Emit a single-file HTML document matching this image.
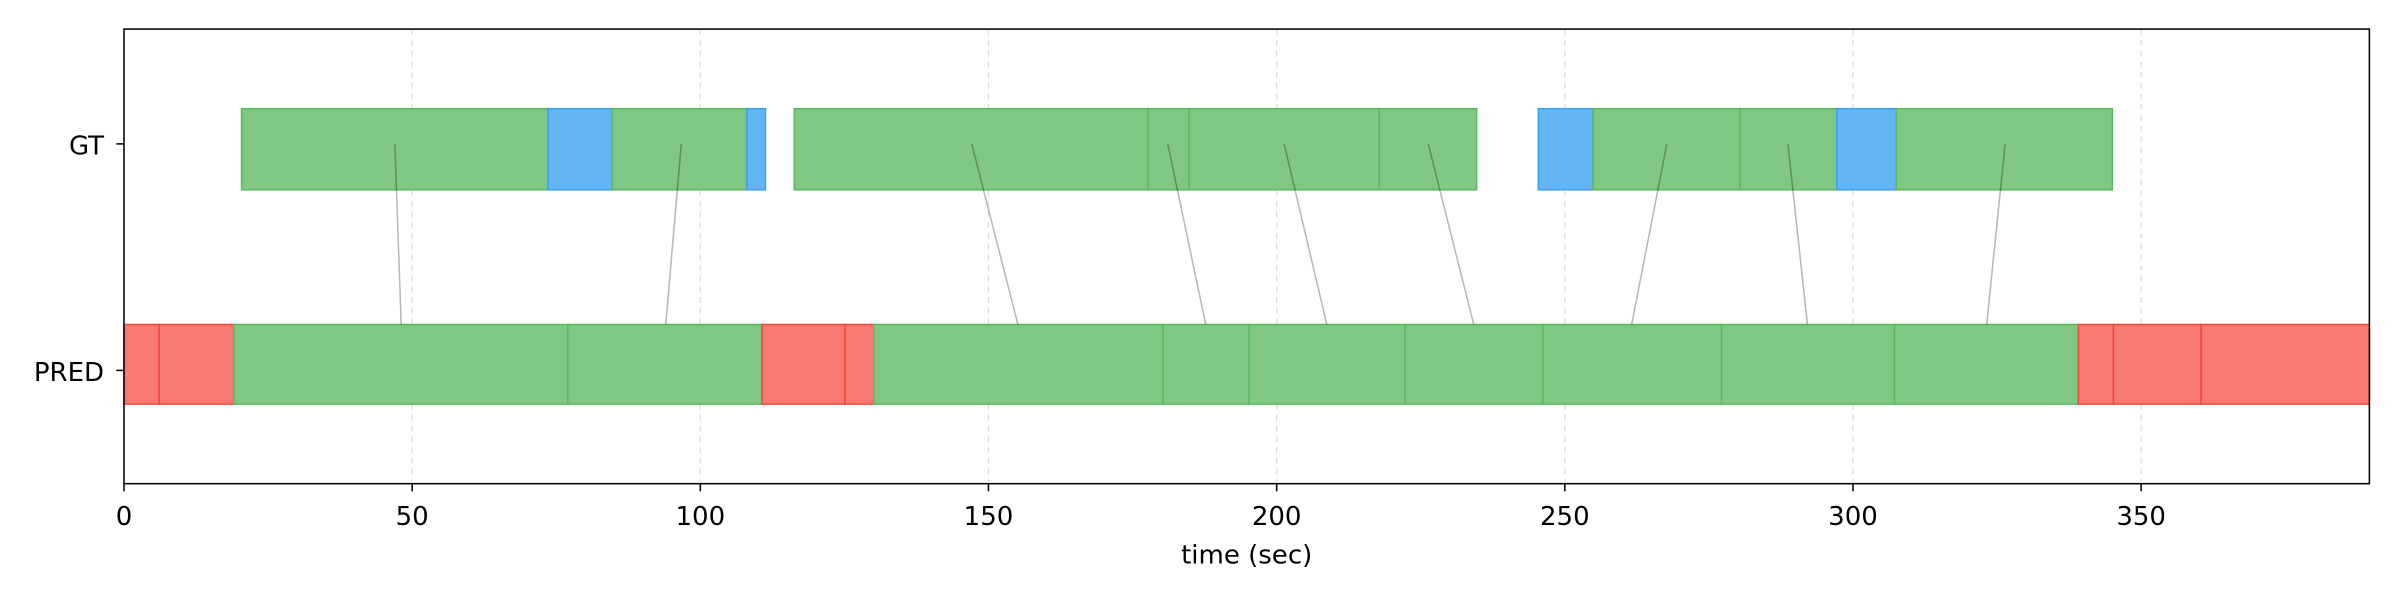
<!DOCTYPE html>
<html><head><meta charset="utf-8"><style>
html,body{margin:0;padding:0;background:#fff;}
svg{display:block;}
text{font-family:"DejaVu Sans","Liberation Sans",sans-serif;fill:#000;}
</style></head><body>
<svg id="chart" width="2400" height="600" viewBox="0 0 1568 392" xmlns="http://www.w3.org/2000/svg">
<g id="grid"></g>
<g id="bars"></g>
<g id="links"></g>
<g id="axes"></g>
</svg>
<script>
const xTicks = [0, 50, 100, 150, 200, 250, 300, 350];
const xMax = 389.6;
const gtStarts = [20.4, 73.6, 84.7, 108.1, 116.3, 177.7, 184.8, 217.8, 245.4, 254.9, 280.4, 297.2, 307.5];
const gtEnds   = [73.6, 84.7, 108.1, 111.3, 177.7, 184.8, 217.8, 234.7, 254.9, 280.4, 297.2, 307.5, 345.0];
const gtClass  = ['g','b','g','b','g','g','g','g','b','g','g','b','g'];
const predStarts = [0, 6.1, 19.1, 77.0, 110.7, 125.1, 130.1, 180.3, 195.2, 222.3, 246.2, 277.2, 307.2, 339.1, 345.2, 360.4];
const predEnds   = [6.1, 19.1, 77.0, 110.7, 125.1, 130.1, 180.3, 195.2, 222.3, 246.2, 277.2, 307.2, 339.1, 345.2, 360.4, 389.6];
const predClass  = ['r','r','g','g','r','r','g','g','g','g','g','g','g','r','r','r'];
const linkGT   = [47.0, 96.7, 147.1, 181.1, 201.3, 226.3, 267.7, 288.7, 326.4];
const linkPred = [48.1, 94.0, 155.1, 187.7, 208.7, 234.2, 261.6, 292.1, 323.2];

const NS = 'http://www.w3.org/2000/svg';
const L = 81, R = 1548, T = 19, B = 316;
const x = v => L + (R - L) * v / xMax;
const gtY = 94;
const fills = {g:'#81c784', b:'#64b5f6', r:'#f77b72'};
const edges = {g:'#5cb860', b:'#3aa0f0', r:'#f4473b'};
function mk(tag, attrs, parent){const e=document.createElementNS(NS,tag);for(const k in attrs)e.setAttribute(k,attrs[k]);document.getElementById(parent).appendChild(e);return e;}

xTicks.forEach(t=>{
  if(t===0) return;
  const l = mk('line',{x1:x(t),x2:x(t),y1:T,y2:B,stroke:'#dddddd','stroke-width':0.8,'stroke-dasharray':'4,3'},'grid');
  
  
});
gtStarts.forEach((s,i)=>{
  const r = mk('rect',{x:x(s),y:gtY-23,width:x(gtEnds[i])-x(s),height:53,fill:fills[gtClass[i]],stroke:edges[gtClass[i]],'stroke-width':1},'bars');
  
  
});
predStarts.forEach((s,i)=>{
  const r = mk('rect',{x:x(s),y:212,width:x(predEnds[i])-x(s),height:52,fill:fills[predClass[i]],stroke:edges[predClass[i]],'stroke-width':1},'bars');
  
  
});
linkGT.forEach((g,i)=>{
  const l = mk('line',{x1:x(g),y1:gtY,x2:x(linkPred[i]),y2:212,stroke:'rgba(0,0,0,0.28)','stroke-width':1},'links');
  
  
});
const frame = mk('rect',{x:L,y:T,width:R-L,height:B-T,fill:'none',stroke:'#000','stroke-width':1},'axes');


xTicks.forEach(t=>{
  mk('line',{x1:x(t),x2:x(t),y1:B,y2:B+5,stroke:'#000','stroke-width':1},'axes');
  const tx = mk('text',{x:x(t),y:343,'font-size':17,'text-anchor':'middle'},'axes');
  tx.textContent = t;
  
  
});
[['GT',gtY],['PRED',242]].forEach(([lab,yy])=>{
  mk('line',{x1:L-5,x2:L,y1:yy,y2:yy,stroke:'#000','stroke-width':1},'axes');
  const tx = mk('text',{x:L-13,y:yy+7,'font-size':17,'text-anchor':'end'},'axes');
  tx.textContent = lab;
  
  
});
const xt = mk('text',{x:(L+R)/2,y:368,'font-size':17,'text-anchor':'middle'},'axes');
xt.textContent = 'time (sec)';


</script>
</body></html>
